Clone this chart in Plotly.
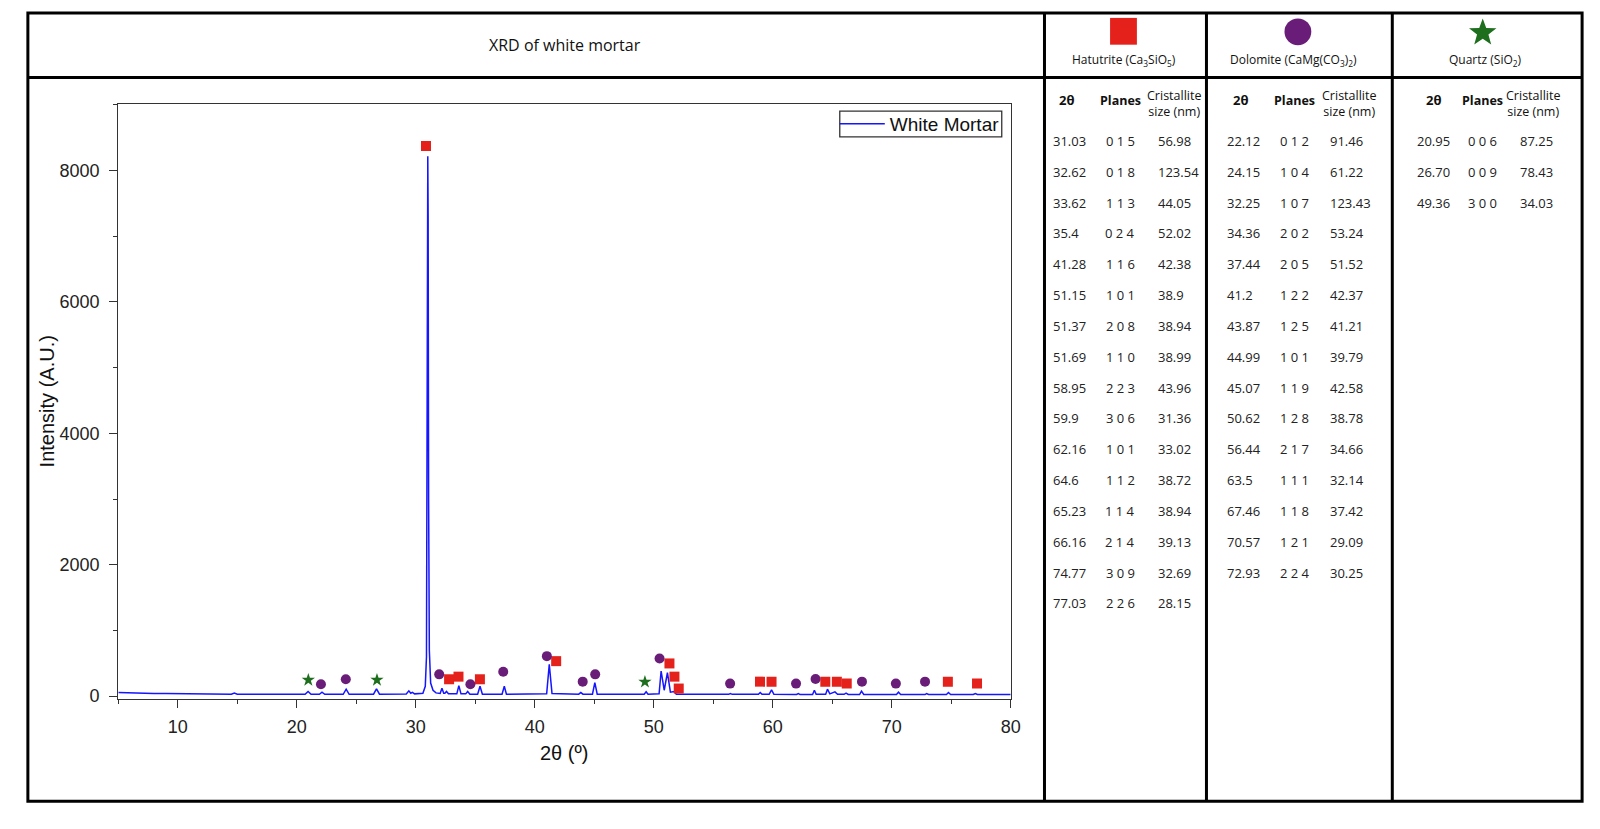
import math
import plotly.graph_objects as go

W, H = 1600, 829
OFF = 8  # default page margin of the browser body

# ---------------- XRD pattern (vertices) ----------------
xrd_2theta = [5.0, 6.0, 7.0, 8.0, 9.0, 10.0, 12.0, 14.5, 14.75, 15.0, 18.0,
              20.7, 20.95, 21.2, 21.9, 22.12, 22.35, 23.9, 24.15, 24.4,
              26.45, 26.70, 26.95, 29.2, 29.42, 29.58, 29.72, 29.9,
              30.60, 30.80, 30.90, 30.96, 31.01, 31.04, 31.08, 31.14, 31.25, 31.45, 31.70,
              32.05, 32.20, 32.35, 32.45, 32.58, 32.75, 33.45, 33.62, 33.80,
              34.20, 34.36, 34.55, 35.20, 35.40, 35.60, 37.25, 37.44, 37.62,
              41.00, 41.22, 41.45, 43.70, 43.87, 44.05, 44.85, 45.05, 45.25,
              49.20, 49.36, 49.52, 50.45, 50.62, 50.88, 51.15, 51.40, 51.70, 51.90,
              56.30, 56.44, 56.60, 58.80, 58.95, 59.10, 59.70, 59.90, 60.10,
              62.00, 62.16, 62.30, 63.35, 63.50, 63.65, 64.45, 64.60, 64.80,
              65.23, 65.45, 66.00, 66.16, 66.35, 67.30, 67.46, 67.65,
              70.40, 70.57, 70.75, 72.80, 72.93, 73.10, 74.60, 74.77, 74.95,
              76.85, 77.03, 77.20, 80.0]
xrd_intensity = [55, 48, 45, 42, 40, 38, 32, 30, 48, 30, 28,
                 28, 72, 28, 28, 60, 28, 28, 106, 28,
                 30, 111, 30, 32, 81, 45, 58, 35,
                 45, 150, 600, 3800, 8220, 7300, 3000, 700, 200, 90, 50,
                 40, 121, 45, 45, 71, 35, 35, 161, 35,
                 35, 71, 30, 30, 151, 30, 30, 151, 30,
                 35, 483, 40, 30, 55, 30, 30, 206, 30,
                 30, 66, 30, 35, 383, 90, 357, 60, 71, 30,
                 28, 40, 28, 28, 55, 28, 28, 96, 28,
                 25, 40, 25, 25, 91, 30, 30, 106, 35,
                 66, 30, 28, 45, 25, 25, 76, 25,
                 25, 60, 25, 25, 40, 25, 25, 55, 25,
                 25, 40, 25, 25]

# ---------------- phase markers on the pattern ----------------
hat_mark_x = [30.86, 32.80, 33.59, 35.39, 41.80, 51.32, 51.74, 52.10, 58.93, 59.90,
              64.42, 65.39, 66.22, 74.72, 77.17]
hat_mark_y = [8373, 257, 297, 257, 533, 498, 297, 116, 221, 221, 221, 221, 191, 221, 191]

dol_mark_x = [22.03, 24.12, 31.97, 34.59, 37.35, 41.02, 44.03, 45.08, 50.49, 56.42,
              61.96, 63.60, 67.50, 70.35, 72.80]
dol_mark_y = [181, 257, 332, 181, 372, 609, 221, 332, 574, 191, 191, 262, 221, 191, 221]

qtz_mark_x = [20.97, 26.74, 49.26]
qtz_mark_y = [246, 246, 217]

# ---------------- table data ----------------
hat_2theta = ["31.03", "32.62", "33.62", "35.4", "41.28", "51.15", "51.37", "51.69",
              "58.95", "59.9", "62.16", "64.6", "65.23", "66.16", "74.77", "77.03"]
hat_planes = ["0 1 5", "0 1 8", "1 1 3", "0 2 4", "1 1 6", "1 0 1", "2 0 8", "1 1 0",
              "2 2 3", "3 0 6", "1 0 1", "1 1 2", "1 1 4", "2 1 4", "3 0 9", "2 2 6"]
hat_size = ["56.98", "123.54", "44.05", "52.02", "42.38", "38.9", "38.94", "38.99",
            "43.96", "31.36", "33.02", "38.72", "38.94", "39.13", "32.69", "28.15"]

dol_2theta = ["22.12", "24.15", "32.25", "34.36", "37.44", "41.2", "43.87", "44.99",
              "45.07", "50.62", "56.44", "63.5", "67.46", "70.57", "72.93"]
dol_planes = ["0 1 2", "1 0 4", "1 0 7", "2 0 2", "2 0 5", "1 2 2", "1 2 5", "1 0 1",
              "1 1 9", "1 2 8", "2 1 7", "1 1 1", "1 1 8", "1 2 1", "2 2 4"]
dol_size = ["91.46", "61.22", "123.43", "53.24", "51.52", "42.37", "41.21", "39.79",
            "42.58", "38.78", "34.66", "32.14", "37.42", "29.09", "30.25"]

qtz_2theta = ["20.95", "26.70", "49.36"]
qtz_planes = ["0 0 6", "0 0 9", "3 0 0"]
qtz_size = ["87.25", "78.43", "34.03"]

phase_titles = ["Hatutrite (Ca<sub>3</sub>SiO<sub>5</sub>)",
                "Dolomite (CaMg(CO<sub>3</sub>)<sub>2</sub>)",
                "Quartz (SiO<sub>2</sub>)"]

RED = "#e5211b"
PURPLE = "#6a1d78"
GREEN = "#1d6e1d"
BLUE = "#1515ff"

TABLE_FONT = "Open Sans, DejaVu Sans Condensed, sans-serif"
AX_FONT = "Liberation Sans, Arial, sans-serif"


def px(x):
    return (x - OFF) / W


def py(y):
    return 1 - (y - OFF) / H


fig = go.Figure()

fig.add_trace(go.Scatter(x=xrd_2theta, y=xrd_intensity, mode="lines",
                         line=dict(color=BLUE, width=1.5), name="White Mortar"))
fig.add_trace(go.Scatter(x=hat_mark_x, y=hat_mark_y, mode="markers", showlegend=False,
                         marker=dict(symbol="square", size=10, color=RED)))
fig.add_trace(go.Scatter(x=dol_mark_x, y=dol_mark_y, mode="markers", showlegend=False,
                         marker=dict(symbol="circle", size=10, color=PURPLE)))
fig.add_trace(go.Scatter(x=qtz_mark_x, y=qtz_mark_y, mode="markers", showlegend=False,
                         marker=dict(symbol="star", size=10, color=GREEN)))

# plot area geometry (pixels in the reference)
PL, PR, PT, PB = 119, 1017, 105, 705

axis_common = dict(showline=True, linecolor="#333333", linewidth=1.3, mirror=True,
                   ticks="outside", ticklen=8, tickwidth=1.3, tickcolor="#333333",
                   showgrid=False, zeroline=False,
                   tickfont=dict(family=AX_FONT, size=18, color="#222222"))

fig.update_layout(
    width=W, height=H, autosize=False,
    margin=dict(l=0, r=0, t=0, b=0),
    paper_bgcolor="white", plot_bgcolor="white",
    xaxis=dict(domain=[px(PL), px(PR)], range=[5, 80], tickvals=list(range(10, 81, 10)),
               minor=dict(ticks="outside", ticklen=4, tick0=5, dtick=5, tickcolor="#333333"),
               ticklabelstandoff=3, **axis_common),
    yaxis=dict(domain=[py(PB), py(PT)], range=[-45, 9011], tickvals=[0, 2000, 4000, 6000, 8000],
               minor=dict(ticks="outside", ticklen=4, tick0=0, dtick=1000, tickcolor="#333333"),
               ticklabelstandoff=6, **axis_common),
    legend=dict(x=px(840), xanchor="left", y=py(125), yanchor="middle",
                bgcolor="rgba(0,0,0,0)", borderwidth=0,
                font=dict(family=AX_FONT, size=19, color="#111111"),
                itemwidth=45),
    showlegend=True,
)


def ann(text, x, y, size, xanchor="center", family=TABLE_FONT, color="#222222", **kw):
    return dict(text=text, x=px(x), y=py(y), xref="paper", yref="paper",
                xanchor=xanchor, yanchor="middle", showarrow=False,
                font=dict(family=family, size=size, color=color), **kw)


annotations = []
annotations.append(ann("2θ (º)", 567, 759, 20, family=AX_FONT, color="#111111"))
annotations.append(ann("Intensity (A.U.)", 47, 405, 20, family=AX_FONT, color="#111111",
                       textangle=-90))
annotations.append(ann("XRD of white mortar", 568, 45, 16, color="#111111"))

panels = [
    dict(cx=1131, cols=(1058, 1127, 1163), heads=(1073, 1127, 1181),
         data=(hat_2theta, hat_planes, hat_size)),
    dict(cx=1302, cols=(1233, 1303, 1336), heads=(1248, 1303, 1357),
         data=(dol_2theta, dol_planes, dol_size)),
    dict(cx=1495, cols=(1424, 1492, 1527), heads=(1442, 1492, 1543),
         data=(qtz_2theta, qtz_planes, qtz_size)),
]
ROW0, ROWSTEP = 142, 31.1
for p, title in zip(panels, phase_titles):
    annotations.append(ann(title, p["cx"], 60, 12, color="#111111"))
    h1, h2, h3 = p["heads"]
    annotations.append(ann("<b>2θ</b>", h1, 101, 13, color="#111111"))
    annotations.append(ann("<b>Planes</b>", h2, 101, 12.5, color="#111111"))
    annotations.append(ann("Cristallite<br>size (nm)", h3, 104, 12.5, color="#111111",
                           align="center"))
    c1, c2, c3 = p["cols"]
    d1, d2, d3 = p["data"]
    for i in range(len(d1)):
        yy = ROW0 + i * ROWSTEP
        annotations.append(ann(d1[i], c1, yy, 13, xanchor="left"))
        annotations.append(ann(d2[i], c2, yy, 13, xanchor="center"))
        annotations.append(ann(d3[i], c3, yy, 13, xanchor="left"))

fig.update_layout(annotations=annotations)

shapes = []
LW = 3
L, R, T, B = 28, 1592, 13, 808
shapes.append(dict(type="rect", xref="paper", yref="paper", x0=px(L), x1=px(R), y0=py(B), y1=py(T),
                   line=dict(color="black", width=LW)))
shapes.append(dict(type="line", xref="paper", yref="paper", x0=px(L), x1=px(R), y0=py(78), y1=py(78),
                   line=dict(color="black", width=LW)))
for xv in (1051, 1214, 1401):
    shapes.append(dict(type="line", xref="paper", yref="paper", x0=px(xv), x1=px(xv),
                       y0=py(B), y1=py(T), line=dict(color="black", width=LW)))

# legend frame
shapes.append(dict(type="rect", xref="paper", yref="paper", x0=px(845), x1=px(1008),
                   y0=py(138), y1=py(112), line=dict(color="#333333", width=1.3)))

# header icons
shapes.append(dict(type="rect", xref="paper", yref="paper", x0=px(1117), x1=px(1144),
                   y0=py(45), y1=py(18), fillcolor=RED, line=dict(width=0)))
shapes.append(dict(type="circle", xref="paper", yref="paper", x0=px(1292.5), x1=px(1319.5),
                   y0=py(45.5), y1=py(18.5), fillcolor=PURPLE, line=dict(width=0)))
scx, scy, ro, ri = 1492, 33, 14.5, 6.0
pts = []
for k in range(10):
    ang = -math.pi / 2 + k * math.pi / 5
    r = ro if k % 2 == 0 else ri
    pts.append((scx + r * math.cos(ang), scy + r * math.sin(ang)))
path = "M " + " L ".join(f"{px(a):.5f},{py(b):.5f}" for a, b in pts) + " Z"
shapes.append(dict(type="path", xref="paper", yref="paper", path=path, fillcolor=GREEN,
                   line=dict(width=0)))

fig.update_layout(shapes=shapes)

fig.write_html("out.html")
